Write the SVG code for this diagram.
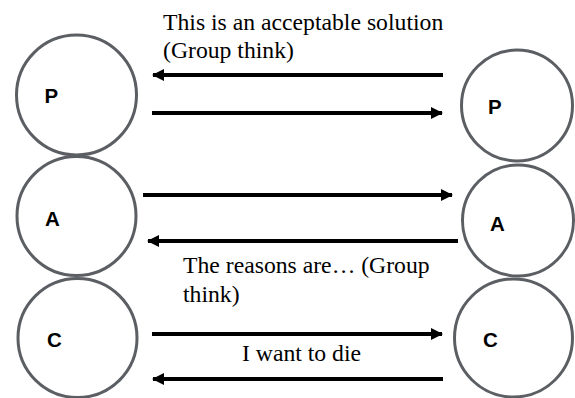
<svg xmlns="http://www.w3.org/2000/svg" width="575" height="398" viewBox="0 0 575 398">
<defs>
<style>
.node{fill:#fff;stroke:#5b5f63;stroke-width:3}
.lbl{font-family:"Liberation Sans",Arial,sans-serif;font-weight:bold;font-size:20.5px;fill:#000}
.cap{font-family:"Liberation Serif","Times New Roman",serif;font-size:23.7px;fill:#000}
.edge{stroke:#000;stroke-width:4;fill:none}
</style>
<marker id="ah" viewBox="0 0 12 12" refX="11" refY="6" markerWidth="12" markerHeight="12" markerUnits="userSpaceOnUse" orient="auto">
<path d="M0,0 L12,6 L0,12 Z" fill="#000"/>
</marker>
</defs>
<rect width="575" height="398" fill="#fff"/>
<g id="node-P-left"><circle class="node" cx="76.5" cy="95" r="60"/><text class="lbl" x="44.5" y="103">P</text></g>
<g id="node-A-left"><circle class="node" cx="76.5" cy="216" r="59.5"/><text class="lbl" x="45" y="226">A</text></g>
<g id="node-C-left"><circle class="node" cx="77.5" cy="338" r="59.5"/><text class="lbl" x="47" y="347">C</text></g>
<g id="node-P-right"><circle class="node" cx="517" cy="105.5" r="55.5"/><text class="lbl" x="488" y="114">P</text></g>
<g id="node-A-right"><circle class="node" cx="518" cy="220.5" r="55.5"/><text class="lbl" x="490" y="231">A</text></g>
<g id="node-C-right"><circle class="node" cx="513.5" cy="338" r="59"/><text class="lbl" x="483" y="347">C</text></g>
<g id="connectors">
<line class="edge" x1="443" y1="75" x2="153" y2="75" marker-end="url(#ah)"/>
<line class="edge" x1="152" y1="113" x2="442" y2="113" marker-end="url(#ah)"/>
<line class="edge" x1="143" y1="195" x2="452" y2="195" marker-end="url(#ah)"/>
<line class="edge" x1="458" y1="241" x2="148" y2="241" marker-end="url(#ah)"/>
<line class="edge" x1="152" y1="334" x2="442" y2="334" marker-end="url(#ah)"/>
<line class="edge" x1="443" y1="379" x2="153" y2="379" marker-end="url(#ah)"/>
</g>
<g id="labels">
<text class="cap" x="163" y="29.5">This is an acceptable solution</text>
<text class="cap" x="163" y="57.5">(Group think)</text>
<text class="cap" x="183" y="273">The reasons are… (Group</text>
<text class="cap" x="183" y="301.5">think)</text>
<text class="cap" x="242" y="360.5">I want to die</text>
</g>
</svg>
